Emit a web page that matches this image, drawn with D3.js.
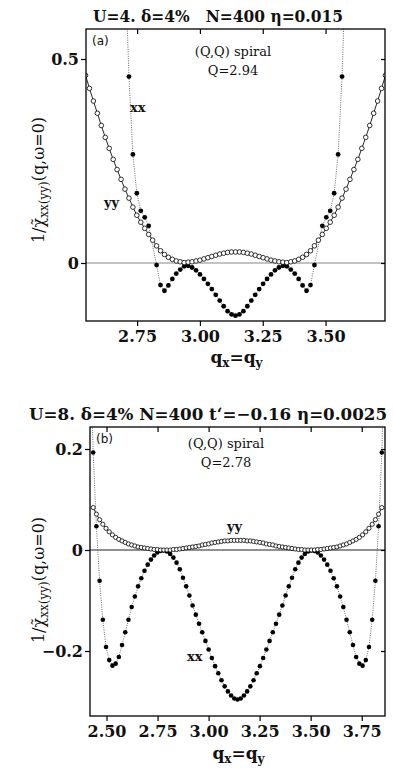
<!DOCTYPE html>
<html>
<head>
<meta charset="utf-8">
<script src="https://cdn.jsdelivr.net/npm/d3@7"></script>
<style>
  body { margin: 0; background: #fff; }
  svg { display: block; }
  text { font-family: 'DejaVu Serif', serif; fill: #111; white-space: pre; }
</style>
</head>
<body>
<svg id="chart" width="393" height="773"></svg>
<script>
// lattice: q = pi + n * 2pi/N, N = 400
const qStep = 2 * Math.PI / 400;

// panel (a) U=4, values from n = -38 .. 38 (yy) and -28 .. 28 (xx)
const aYYStart = -38;
const aYY = [0.460, 0.428, 0.397, 0.367, 0.337, 0.308, 0.281, 0.254, 0.229, 0.205,
  0.181, 0.159, 0.137, 0.117, 0.100, 0.085, 0.070, 0.056, 0.042, 0.030,
  0.021, 0.014, 0.009, 0.005, 0.003, 0.001, 0.002, 0.003, 0.005, 0.007,
  0.010, 0.013, 0.016, 0.019, 0.022, 0.024, 0.026, 0.027, 0.027, 0.027,
  0.026, 0.024, 0.022, 0.019, 0.016, 0.013, 0.010, 0.007, 0.005, 0.003,
  0.002, 0.001, 0.003, 0.005, 0.009, 0.014, 0.021, 0.030, 0.042, 0.056,
  0.070, 0.085, 0.100, 0.117, 0.137, 0.159, 0.181, 0.205, 0.229, 0.254,
  0.281, 0.308, 0.337, 0.367, 0.397, 0.428, 0.460];
const aXXStart = -28;
const aXX = [0.75, 0.457, 0.266, 0.171, 0.128, 0.112, 0.091, null, -0.005, -0.054,
  -0.068, -0.055, -0.039, -0.026, -0.016, -0.008, -0.007, -0.011, -0.018, -0.028,
  -0.039, -0.051, -0.064, -0.078, -0.092, -0.106, -0.118, -0.126, -0.129, -0.126,
  -0.118, -0.106, -0.092, -0.078, -0.064, -0.051, -0.039, -0.028, -0.018, -0.011,
  -0.007, -0.008, -0.016, -0.026, -0.039, -0.055, -0.068, -0.054, -0.005, null,
  0.091, 0.112, 0.128, 0.171, 0.266, 0.457, 0.75];

// panel (b) U=8, values from n = -45 .. 45 (yy) and -46 .. 46 (xx)
const bYYStart = -45;
const bYY = [0.084, 0.071, 0.060, 0.051, 0.043, 0.036, 0.030, 0.025, 0.021, 0.018,
  0.015, 0.012, 0.010, 0.008, 0.006, 0.005, 0.004, 0.003, 0.002, 0.001,
  0.001, 0.000, 0.000, 0.000, 0.000, 0.001, 0.001, 0.002, 0.003, 0.004,
  0.005, 0.006, 0.007, 0.008, 0.010, 0.011, 0.012, 0.014, 0.015, 0.016,
  0.017, 0.018, 0.018, 0.019, 0.019, 0.019, 0.019, 0.019, 0.018, 0.018,
  0.017, 0.016, 0.015, 0.014, 0.012, 0.011, 0.010, 0.008, 0.007, 0.006,
  0.005, 0.004, 0.003, 0.002, 0.001, 0.001, 0.000, 0.000, 0.000, 0.000,
  0.001, 0.001, 0.002, 0.003, 0.004, 0.005, 0.006, 0.008, 0.010, 0.012,
  0.015, 0.018, 0.021, 0.025, 0.030, 0.036, 0.043, 0.051, 0.060, 0.071,
  0.084];
const bXXStart = -46;
const bXX = [0.42, 0.193, 0.047, -0.061, -0.138, -0.192, -0.218, -0.229, -0.225, -0.212,
  -0.188, -0.163, -0.138, -0.113, -0.092, -0.072, -0.056, -0.041, -0.029, -0.019,
  -0.011, -0.005, -0.002, -0.001, -0.003, -0.008, -0.015, -0.025, -0.038, -0.055,
  -0.072, -0.090, -0.110, -0.128, -0.146, -0.163, -0.180, -0.197, -0.214, -0.230,
  -0.244, -0.258, -0.270, -0.280, -0.288, -0.294, -0.296, -0.294, -0.288, -0.280,
  -0.270, -0.258, -0.244, -0.230, -0.214, -0.197, -0.180, -0.163, -0.146, -0.128,
  -0.110, -0.090, -0.072, -0.055, -0.038, -0.025, -0.015, -0.008, -0.003, -0.001,
  -0.002, -0.005, -0.011, -0.019, -0.029, -0.041, -0.056, -0.072, -0.092, -0.113,
  -0.138, -0.163, -0.188, -0.212, -0.225, -0.229, -0.218, -0.192, -0.138, -0.061,
  0.047, 0.193, 0.42];

const aXTicks = [2.75, 3.00, 3.25, 3.50];
const aYTicks = [0, 0.5];
const bXTicks = [2.50, 2.75, 3.00, 3.25, 3.50, 3.75];
const bYTicks = [-0.2, 0, 0.2];

function toPoints(start, vals) {
    return vals.map((v, i) => ({ q: Math.PI + (start + i) * qStep, v: v }))
        .filter(d => d.v !== null);
}

const svg = d3.select('#chart');
svg.append('rect').attr('width', 393).attr('height', 773).attr('fill', '#fff');

function drawPanel(p) {
    let x = d3.scaleLinear().domain(p.xDomain).range([p.left, p.right]);
    let y = d3.scaleLinear().domain(p.yRefDomain).range(p.yRefRange);
    let g = svg.append('g');
    let clipId = 'clip-' + p.id;
    g.append('clipPath').attr('id', clipId)
        .append('rect')
        .attr('x', p.left).attr('y', p.top)
        .attr('width', p.right - p.left).attr('height', p.bottom - p.top);

    // zero line
    g.append('line')
        .attr('x1', p.left).attr('x2', p.right)
        .attr('y1', y(0)).attr('y2', y(0))
        .attr('stroke', p.zeroColor).attr('stroke-width', 1.2);

    let plot = g.append('g').attr('clip-path', `url(#${clipId})`);
    let line = d3.line().x(d => x(d.q)).y(d => y(d.v));

    let yy = toPoints(p.yyStart, p.yy);
    let xx = toPoints(p.xxStart, p.xx);

    plot.append('path').datum(xx)
        .attr('d', line).attr('fill', 'none')
        .attr('stroke', '#444').attr('stroke-width', 0.8)
        .attr('stroke-dasharray', '1,1.3');
    plot.append('path').datum(yy)
        .attr('d', line).attr('fill', 'none')
        .attr('stroke', '#111').attr('stroke-width', 0.9);

    plot.selectAll('.xx').data(xx).enter()
        .append('circle')
        .attr('cx', d => x(d.q)).attr('cy', d => y(d.v))
        .attr('r', p.rFill).attr('fill', '#000');
    plot.selectAll('.yy').data(yy).enter()
        .append('circle')
        .attr('cx', d => x(d.q)).attr('cy', d => y(d.v))
        .attr('r', p.rOpen).attr('fill', '#fff')
        .attr('stroke', '#000').attr('stroke-width', 0.8);

    // frame
    g.append('rect')
        .attr('x', p.left).attr('y', p.top)
        .attr('width', p.right - p.left).attr('height', p.bottom - p.top)
        .attr('fill', 'none').attr('stroke', '#000').attr('stroke-width', 1.3);

    // axes: outward ticks bottom/left, inward on top/right
    g.append('g').attr('transform', `translate(0,${p.bottom})`)
        .call(d3.axisBottom(x).tickValues(p.xTicks).tickFormat(d3.format('.2f')).tickSize(5).tickPadding(5))
        .call(a => a.select('.domain').remove());
    g.append('g').attr('transform', `translate(0,${p.top})`)
        .call(d3.axisBottom(x).tickValues(p.xTicks).tickFormat('').tickSize(5))
        .call(a => a.select('.domain').remove());
    g.append('g').attr('transform', `translate(${p.left},0)`)
        .call(d3.axisLeft(y).tickValues(p.yTicks).tickFormat(d => d === 0 ? '0' : d3.format('.1f')(d)).tickSize(5).tickPadding(2))
        .call(a => a.select('.domain').remove());
    g.append('g').attr('transform', `translate(${p.right},0)`)
        .call(d3.axisRight(y).tickValues(p.yTicks).tickFormat('').tickSize(-4))
        .call(a => a.select('.domain').remove());
    g.selectAll('.tick line').attr('stroke', '#000').attr('stroke-width', 1.2);
    g.selectAll('.tick text')
        .style('font-family', "'DejaVu Serif', serif")
        .style('font-size', '16px').style('font-weight', 'bold').attr('fill', '#111');

    // title
    svg.append('text')
        .attr('x', p.titleX).attr('y', p.titleY)
        .attr('textLength', p.titleLen).attr('lengthAdjust', 'spacingAndGlyphs')
        .style('font-size', '16.5px').style('font-weight', 'bold')
        .text(p.title);

    // x label
    let xl = svg.append('text')
        .attr('x', (p.left + p.right) / 2 + 1).attr('y', p.xLabelY)
        .attr('text-anchor', 'middle')
        .style('font-size', '17px').style('font-weight', 'bold');
    xl.append('tspan').text('q');
    xl.append('tspan').attr('dy', 4).style('font-size', '12px').text('x');
    xl.append('tspan').attr('dy', -4).text('=q');
    xl.append('tspan').attr('dy', 4).style('font-size', '12px').text('y');

    // y label
    let yl = svg.append('text')
        .attr('transform', `translate(${p.yLabelX},${p.yLabelY}) rotate(-90)`)
        .attr('text-anchor', 'middle')
        .style('font-size', '16px');
    yl.append('tspan').text('1/\u03c7\u0303');
    yl.append('tspan').attr('dy', 4).style('font-size', '12px').text('xx(yy)');
    yl.append('tspan').attr('dy', -4).text('(q,\u03c9=0)');

    // annotations
    svg.append('text').attr('x', p.left + 6).attr('y', p.top + 16)
        .style('font-family', "'DejaVu Sans', sans-serif").style('font-size', '12px')
        .text(p.tag);
    svg.append('text').attr('x', p.noteX).attr('y', p.noteY)
        .attr('text-anchor', 'middle').style('font-size', '13px')
        .text('(Q,Q) spiral');
    svg.append('text').attr('x', p.noteX).attr('y', p.noteY + 19)
        .attr('text-anchor', 'middle').style('font-size', '13px')
        .text(p.qNote);
    p.labels.forEach(l => {
        svg.append('text').attr('x', l[1]).attr('y', l[2])
            .style('font-size', '13px').style('font-weight', 'bold').text(l[0]);
    });
}

drawPanel({
    id: 'a', left: 86, right: 385, top: 29, bottom: 321,
    xDomain: [Math.PI - 0.595, Math.PI + 0.595],
    yRefDomain: [0, 0.5], yRefRange: [263, 59],
    xTicks: aXTicks, yTicks: aYTicks,
    yy: aYY, yyStart: aYYStart, xx: aXX, xxStart: aXXStart,
    rFill: 2.4, rOpen: 2.3, zeroColor: '#888',
    title: 'U=4. \u03b4=4%   N=400 \u03b7=0.015', titleX: 93, titleY: 22, titleLen: 250,
    xLabelY: 363, yLabelX: 44, yLabelY: 180,
    tag: '(a)', noteX: 233, noteY: 56, qNote: 'Q=2.94',
    labels: [['xx', 130, 112], ['yy', 104, 207]]
});

drawPanel({
    id: 'b', left: 90, right: 385, top: 427, bottom: 716,
    xDomain: [Math.PI - 0.7225, Math.PI + 0.7225],
    yRefDomain: [-0.2, 0.2], yRefRange: [651, 449],
    xTicks: bXTicks, yTicks: bYTicks,
    yy: bYY, yyStart: bYYStart, xx: bXX, xxStart: bXXStart,
    rFill: 2.3, rOpen: 2.1, zeroColor: '#222',
    title: 'U=8. \u03b4=4% N=400 t\u2018=\u22120.16 \u03b7=0.0025', titleX: 29, titleY: 420, titleLen: 358,
    xLabelY: 759, yLabelX: 44, yLabelY: 580,
    tag: '(b)', noteX: 226, noteY: 448, qNote: 'Q=2.78',
    labels: [['yy', 227, 531], ['xx', 187, 661]]
});
</script>
</body>
</html>
